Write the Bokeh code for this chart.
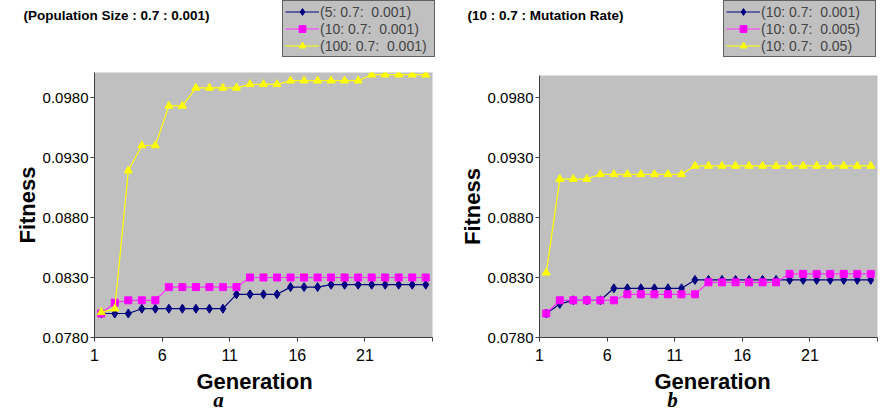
from bokeh.plotting import figure
from bokeh.models import Range1d, FixedTicker, PrintfTickFormatter, Legend, LegendItem, Label
from bokeh.layouts import row, column
from bokeh.embed import file_html
from bokeh.resources import INLINE

# ---------------- data ----------------
generation = list(range(1, 26))

x_tick_positions = [0.5, 5.5, 10.5, 15.5, 20.5, 25.5]
x_tick_labels = ["1", "6", "11", "16", "21", ""]
y_ticks = [0.078, 0.083, 0.088, 0.093, 0.098]

# panel a : (Population Size : 0.7 : 0.001)
a_title = "(Population Size : 0.7 : 0.001)"
a_names = ["(5: 0.7:  0.001)", "(10: 0.7:  0.001)", "(100: 0.7:  0.001)"]
a_pop5 = [0.0800, 0.0800, 0.0800, 0.0804, 0.0804, 0.0804, 0.0804, 0.0804, 0.0804, 0.0804,
          0.0816, 0.0816, 0.0816, 0.0816, 0.0822, 0.0822, 0.0822,
          0.0824, 0.0824, 0.0824, 0.0824, 0.0824, 0.0824, 0.0824, 0.0824]
a_pop10 = [0.0800, 0.0809, 0.0811, 0.0811, 0.0811,
           0.0822, 0.0822, 0.0822, 0.0822, 0.0822, 0.0822,
           0.0830, 0.0830, 0.0830, 0.0830, 0.0830, 0.0830, 0.0830,
           0.0830, 0.0830, 0.0830, 0.0830, 0.0830, 0.0830, 0.0830]
a_pop100 = [0.0801, 0.0804, 0.0919, 0.0940, 0.0940, 0.0973, 0.0973,
            0.0988, 0.0988, 0.0988, 0.0988, 0.0991, 0.0991, 0.0991,
            0.0994, 0.0994, 0.0994, 0.0994, 0.0994, 0.0994,
            0.0999, 0.0999, 0.0999, 0.0999, 0.0999]

# panel b : (10 : 0.7 : Mutation Rate)
b_title = "(10 : 0.7 : Mutation Rate)"
b_names = ["(10: 0.7:  0.001)", "(10: 0.7:  0.005)", "(10: 0.7:  0.05)"]
b_mut001 = [0.0800, 0.0808, 0.0811, 0.0811, 0.0811,
            0.0821, 0.0821, 0.0821, 0.0821, 0.0821, 0.0821,
            0.0828, 0.0828, 0.0828, 0.0828, 0.0828, 0.0828, 0.0828,
            0.0828, 0.0828, 0.0828, 0.0828, 0.0828, 0.0828, 0.0828]
b_mut005 = [0.0800, 0.0811, 0.0811, 0.0811, 0.0811, 0.0811,
            0.0816, 0.0816, 0.0816, 0.0816, 0.0816, 0.0816,
            0.0826, 0.0826, 0.0826, 0.0826, 0.0826, 0.0826,
            0.0833, 0.0833, 0.0833, 0.0833, 0.0833, 0.0833, 0.0833]
b_mut05 = [0.0834, 0.0912, 0.0912, 0.0912,
           0.0916, 0.0916, 0.0916, 0.0916, 0.0916, 0.0916, 0.0916,
           0.0923, 0.0923, 0.0923, 0.0923, 0.0923, 0.0923, 0.0923,
           0.0923, 0.0923, 0.0923, 0.0923, 0.0923, 0.0923, 0.0923]

x_label = "Generation"
y_label = "Fitness"

# ---------------- styling ----------------
FONT = "Liberation Sans"
line_colors = ["#000080", "#ff33ff", "#ffff00"]
fill_colors = ["#000080", "#ff00ff", "#ffff00"]
markers = ["diamond", "square", "triangle"]
msizes = [9, 7, 8]
FRAME_BOTTOM = 337
MAIN_BOTTOM = FRAME_BOTTOM + 30
FOOT_H = 411 - MAIN_BOTTOM


def blank_fig(width, height, xr, yr):
    f = figure(width=width, height=height, x_range=xr, y_range=yr,
               x_axis_location=None, y_axis_location=None,
               min_border=0, output_backend="svg", toolbar_location=None)
    f.frame_align = False
    f.grid.visible = False
    f.outline_line_color = None
    f.background_fill_color = "white"
    f.border_fill_color = "white"
    return f


def add_series(fig, series):
    rends = []
    for vals, lc, fc, mk, ms in zip(series, line_colors, fill_colors, markers, msizes):
        ln = fig.line(generation, vals, line_color=lc, line_width=1.2)
        sc = fig.scatter(generation, vals, marker=mk, size=ms, fill_color=fc, line_color=fc)
        rends.append([ln, sc])
    return rends


def make_panel(title, names, series, letter, width, left, right, top, ymax,
               title_x, legend_x, xlabel_x, letter_x):
    # ---- header: title and legend ----
    head = blank_fig(width, top, Range1d(-1000, -999), Range1d(-1000, -999))
    rends = add_series(head, series)
    legend = Legend(items=[LegendItem(label=n, renderers=r) for n, r in zip(names, rends)],
                    location=(legend_x, top - 57), orientation="vertical",
                    background_fill_color="#c0c0c0", background_fill_alpha=1.0,
                    border_line_color="black", border_line_width=1,
                    label_text_font=FONT, label_text_font_size="14px",
                    glyph_width=34, glyph_height=17, label_height=17, label_width=112,
                    label_standoff=1, spacing=0, padding=2, margin=0)
    head.add_layout(legend, "center")
    head.add_layout(Label(x=title_x, y=top - 15, x_units="screen", y_units="screen",
                          text=title, text_font=FONT, text_font_style="bold",
                          text_font_size="13.5px", text_baseline="middle", text_align="left",
                          text_color="black"))

    # ---- main plot ----
    p = figure(width=width, height=MAIN_BOTTOM - top, frame_width=width - left - right,
               frame_height=FRAME_BOTTOM - top,
               min_border_left=left, min_border_right=right,
               min_border_top=0, min_border_bottom=MAIN_BOTTOM - FRAME_BOTTOM,
               x_range=Range1d(0.5, 25.5), y_range=Range1d(0.078, ymax),
               output_backend="svg", toolbar_location=None)
    p.background_fill_color = "#c0c0c0"
    p.border_fill_color = "white"
    p.outline_line_color = None
    p.xgrid.visible = False
    p.ygrid.visible = False

    p.xaxis.ticker = FixedTicker(ticks=x_tick_positions)
    p.xaxis.major_label_overrides = {t: l for t, l in zip(x_tick_positions, x_tick_labels)}
    p.yaxis.ticker = FixedTicker(ticks=y_ticks)
    p.yaxis.formatter = PrintfTickFormatter(format="%.4f")
    for ax in (p.xaxis[0], p.yaxis[0]):
        ax.axis_line_color = "#404040"
        ax.major_tick_line_color = "#404040"
        ax.minor_tick_line_color = None
        ax.major_tick_in = 0
        ax.major_tick_out = 4
        ax.major_label_text_font = FONT
        ax.major_label_text_color = "black"
        ax.axis_label_text_font = FONT
        ax.axis_label_text_font_style = "bold"
        ax.axis_label_text_font_size = "22px"
        ax.axis_label_text_color = "black"
    p.yaxis.major_label_text_font_size = "15px"
    p.yaxis.major_label_standoff = 2
    p.yaxis.axis_label = y_label
    p.yaxis.axis_label_standoff = 0
    p.xaxis.major_label_text_font_size = "16px"
    p.xaxis.major_label_standoff = 7
    add_series(p, series)

    # ---- footer: x-axis title and panel letter ----
    foot = blank_fig(width, FOOT_H, Range1d(0, 1), Range1d(0, 1))
    foot.add_layout(Label(x=xlabel_x, y=411 - 381, x_units="screen", y_units="screen",
                          text=x_label, text_font=FONT, text_font_style="bold",
                          text_font_size="22px", text_baseline="middle", text_align="center",
                          text_color="black"))
    foot.add_layout(Label(x=letter_x, y=0, x_units="screen", y_units="screen",
                          text=letter, text_font="Liberation Serif",
                          text_font_style="bold italic", text_font_size="21px",
                          text_baseline="bottom", text_align="center", text_color="black"))
    return column(head, p, foot, spacing=0)


c1 = make_panel(a_title, a_names, [a_pop5, a_pop10, a_pop100], "a",
                width=440, left=94, right=8, top=72, ymax=0.078 + 265 / 12000,
                title_x=23, legend_x=282, xlabel_x=254, letter_x=218)
c2 = make_panel(b_title, b_names, [b_mut001, b_mut005, b_mut05], "b",
                width=443, left=99, right=6, top=75, ymax=0.078 + 262 / 12000,
                title_x=27, legend_x=283, xlabel_x=272, letter_x=232)

layout = row(c1, c2, spacing=0)
open("out.html", "w").write(file_html(layout, INLINE))
